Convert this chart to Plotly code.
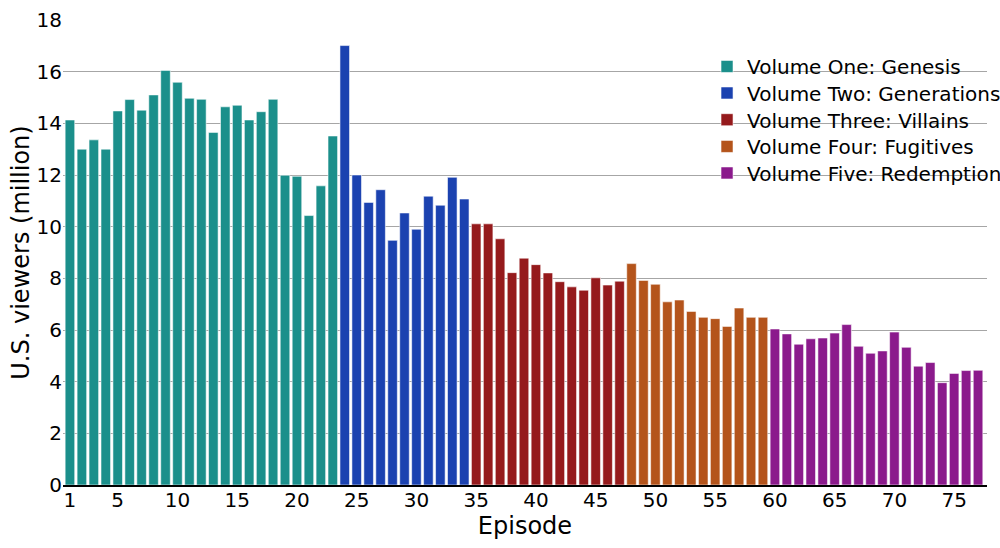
import plotly.graph_objects as go

# viewers (million) per volume
volume_names = [
    "Volume One: Genesis",
    "Volume Two: Generations",
    "Volume Three: Villains",
    "Volume Four: Fugitives",
    "Volume Five: Redemption",
]
vol1 = [14.13, 13.0, 13.36, 13.0, 14.48, 14.92, 14.51, 15.1, 16.05, 15.59, 14.97, 14.93,
        13.65, 14.64, 14.7, 14.13, 14.45, 14.93, 11.99, 11.95, 10.43, 11.58, 13.51]
vol2 = [17.01, 12.0, 10.94, 11.43, 9.47, 10.53, 9.9, 11.18, 10.83, 11.91, 11.07]
vol3 = [10.11, 10.11, 9.53, 8.22, 8.78, 8.53, 8.21, 7.87, 7.67, 7.54, 8.02, 7.74, 7.89]
vol4 = [8.57, 7.92, 7.77, 7.09, 7.16, 6.72, 6.49, 6.44, 6.14, 6.85, 6.49, 6.49]
vol5 = [6.04, 5.85, 5.45, 5.66, 5.69, 5.88, 6.21, 5.37, 5.1, 5.19, 5.92, 5.33, 4.6,
        4.74, 3.96, 4.32, 4.43, 4.44]
colors = ["#1b8f8b", "#1b42b0", "#951a1c", "#b4541b", "#8b1a8c"]
x_ticks = [1, 5, 10, 15, 20, 25, 30, 35, 40, 45, 50, 55, 60, 65, 70, 75]
y_ticks = [0, 2, 4, 6, 8, 10, 12, 14, 16, 18]

font = "DejaVu Sans, sans-serif"
legend_ids = ["legend", "legend2", "legend3", "legend4", "legend5"]

fig = go.Figure()
start = 1
for name, vals, col, lid in zip(volume_names, [vol1, vol2, vol3, vol4, vol5], colors, legend_ids):
    eps = list(range(start, start + len(vals)))
    start += len(vals)
    fig.add_trace(go.Bar(
        x=eps, y=vals, name=name, legend=lid,
        marker=dict(color=col, line=dict(color="rgba(255,255,255,0.55)", width=1)),
    ))

# one legend per entry, so the row spacing can follow the reference
legend_tops = [0.942, 0.885, 0.8275, 0.770, 0.713]
for lid, ytop in zip(legend_ids, legend_tops):
    fig.update_layout({lid: dict(
        x=0.697, y=ytop, xanchor="left", yanchor="top",
        bgcolor="rgba(0,0,0,0)", borderwidth=0, font=dict(family=font, size=20),
    )})

fig.update_layout(
    width=1000, height=548,
    margin=dict(l=63, r=13, t=20, b=63, autoexpand=False),
    plot_bgcolor="white", paper_bgcolor="white",
    font=dict(family=font, size=20, color="black"),
    bargap=0.2,
    showlegend=True,
    xaxis=dict(
        range=[0.42, 77.75], tickvals=x_ticks, showgrid=False,
        showline=True, linecolor="black", linewidth=1.5,
        ticks="", ticklabelstandoff=-4, title=dict(text="Episode", standoff=0),
        zeroline=False, automargin=False,
    ),
    yaxis=dict(
        range=[0, 18], tickvals=y_ticks, showgrid=True,
        gridcolor="#a6a6a6", gridwidth=1.3, zeroline=False,
        ticks="", title=dict(text="U.S. viewers (million)", standoff=0),
        automargin=False,
    ),
)
# white panel behind the legend that hides the gridlines there
fig.add_shape(type="rect", xref="paper", yref="paper", x0=0.686, x1=1.02,
              y0=0.619, y1=0.957, fillcolor="white", line_width=0, layer="between")

# drop the page's default body margin so the 1000x548 figure fills the window
fig.write_html("out.html", config={"displayModeBar": False},
               post_script="document.body.style.margin = '0';")
